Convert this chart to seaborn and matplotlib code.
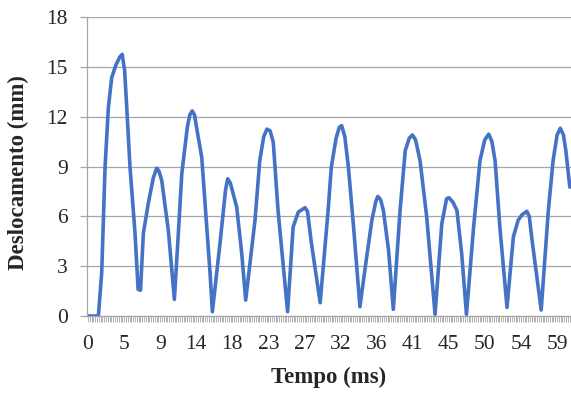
import numpy as np
import pandas as pd
import seaborn as sns
import matplotlib.pyplot as plt
from matplotlib.ticker import FixedLocator, MultipleLocator

# displacement trace
tempo = [0.0, 1.3, 1.72, 2.14, 2.56, 2.98, 3.5, 4.0, 4.3, 4.6, 4.87, 5.28, 5.91, 6.3, 6.6,
         6.96, 7.58, 8.2, 8.64, 8.9, 9.27, 10.1, 10.86, 11.3, 11.8, 12.5, 12.8, 13.1, 13.4,
         13.6, 14.3, 15.35, 15.64, 16.6, 17.3, 17.57, 17.9, 18.7, 19.33, 19.83, 21.0, 21.6,
         22.1, 22.5, 22.9, 23.3, 23.9, 25.1, 25.8, 26.45, 27.3, 27.6, 28.1, 29.2, 30.2,
         30.6, 31.2, 31.6, 31.9, 32.3, 32.75, 33.4, 34.2, 35.05, 35.7, 36.2, 36.45, 36.8,
         37.15, 37.8, 38.4, 39.25, 39.9, 40.4, 40.8, 41.2, 41.76, 42.6, 43.65, 44.5, 45.1,
         45.4, 45.9, 46.4, 47.0, 47.6, 48.5, 49.3, 49.9, 50.4, 50.8, 51.2, 51.8, 52.7,
         53.5, 54.1, 54.6, 55.2, 55.5, 55.8, 57.0, 57.9, 58.5, 59.0, 59.4, 59.8, 60.1, 60.6]
deslocamento = [0.0, 0.0, 2.6, 8.96, 12.56, 14.36, 15.1, 15.6, 15.75, 14.8, 12.56, 8.96, 4.98,
                1.6, 1.55, 4.98, 6.78, 8.3, 8.9, 8.75, 8.16, 5.16, 1.0, 4.5, 8.6, 11.4, 12.1,
                12.35, 12.1, 11.5, 9.56, 2.58, 0.26, 4.38, 7.6, 8.26, 8.0, 6.56, 3.78, 0.96,
                5.76, 9.36, 10.8, 11.25, 11.15, 10.46, 6.36, 0.26, 5.36, 6.26, 6.52, 6.3,
                4.38, 0.8, 6.36, 8.96, 10.7, 11.35, 11.46, 10.8, 8.96, 5.36, 0.56, 3.56, 5.76,
                6.9, 7.2, 7.0, 6.36, 3.96, 0.4, 6.36, 9.96, 10.7, 10.9, 10.6, 9.36, 5.96, 0.1,
                5.56, 7.06, 7.12, 6.85, 6.36, 3.76, 0.1, 5.36, 9.36, 10.6, 10.95, 10.5, 9.36,
                5.36, 0.52, 4.76, 5.76, 6.1, 6.3, 6.0, 4.76, 0.36, 6.36, 9.36, 10.9, 11.3,
                10.9, 9.96, 7.76]
tick_labels = ["0", "5", "9", "14", "18", "23", "27", "32", "36", "41", "45", "50", "54", "59"]

df = pd.DataFrame({"Tempo": tempo, "Deslocamento": deslocamento})

sns.set_style("white")
plt.rcParams["font.family"] = ["Liberation Serif", "DejaVu Serif"]

fig = plt.figure(figsize=(5.71, 3.94), dpi=100)
ax = fig.add_axes([87 / 571, 1 - 316 / 394, 1 - 87 / 571, 299 / 394])

sns.lineplot(data=df, x="Tempo", y="Deslocamento", color="#4472C4", linewidth=2.6,
             estimator=None, ax=ax)
ax.lines[0].set_solid_joinstyle("round")

ax.set_xlim(-0.13, 60.75)
ax.set_ylim(0, 18)

# Excel-like category axis: label every 20 samples, a tick on every sample
step = 59 / 13
ax.xaxis.set_major_locator(FixedLocator(np.arange(len(tick_labels)) * step))
ax.set_xticklabels(tick_labels)
ax.xaxis.set_minor_locator(MultipleLocator(step / 20))
ax.set_yticks(np.arange(0, 19, 3))

ax.grid(axis="y", color="#A6A6A6", linewidth=0.9)
ax.grid(axis="x", visible=False)
for s in ["top", "right"]:
    ax.spines[s].set_visible(False)
for s in ["left", "bottom"]:
    ax.spines[s].set_color("#A6A6A6")
    ax.spines[s].set_linewidth(0.9)

ax.tick_params(axis="y", which="major", length=5, width=0.9, color="#A6A6A6",
               direction="out", left=True, pad=9, labelsize=15.5)
ax.tick_params(axis="x", which="both", length=4.5, width=0.6, color="#A6A6A6",
               direction="out", bottom=True, pad=9, labelsize=15.5)

ax.set_xlabel("Tempo (ms)", fontsize=16.5, fontweight="bold")
ax.set_ylabel("Deslocamento (mm)", fontsize=16.5, fontweight="bold")
ax.xaxis.set_label_coords(0.5, -0.17)
ax.yaxis.set_label_coords(-0.12, 0.48)

fig.savefig("out.png", dpi=100)
